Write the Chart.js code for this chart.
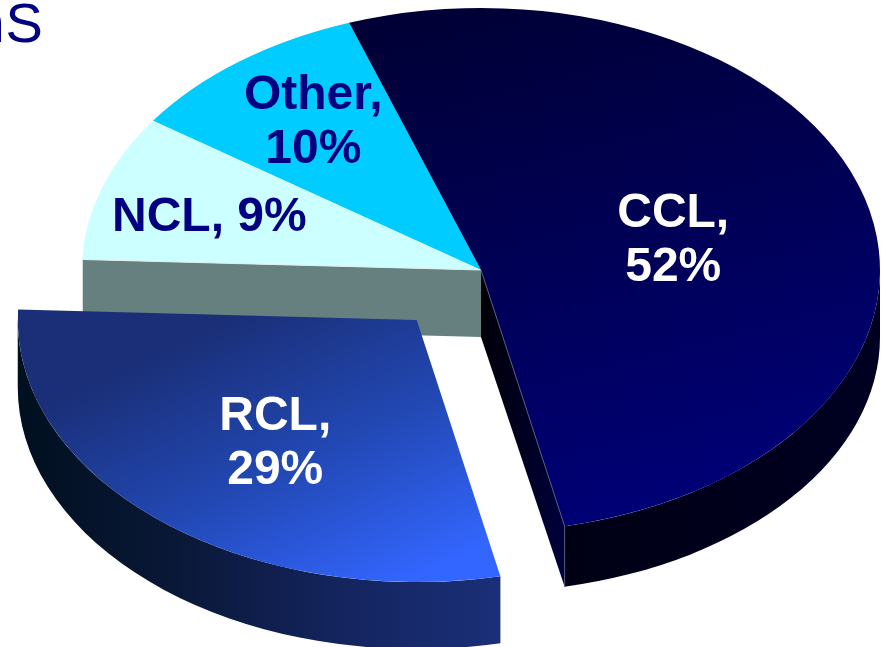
<!DOCTYPE html>
<html>
<head>
<meta charset="utf-8">
<style>
  html, body { margin: 0; padding: 0; background: #fff; overflow: hidden; }
  canvas { display: block; }
</style>
<script src="https://cdn.jsdelivr.net/npm/chart.js@4/dist/chart.umd.js"></script>
</head>
<body>
<canvas id="pie" width="881" height="647"></canvas>
<script>
const categories = ["CCL", "RCL", "NCL", "Other"];
const shares = [52, 29, 9, 10];
const pulledOut = [0, 0.25, 0, 0];
const titleTail = "nS";

// the tilted pie: circle from Chart.js squeezed to this ellipse
const PIE = { x: 481, y: 270, rx: 399, ry: 262, base: 300 };
const NAVY = "#000080";

// gradients are given in screen px relative to the slice apex
const looks = [
  {
    top: [-80, -250, 220, 240, ["#000036", "#000078"]],
    rim: { from: 500, to: 880, stops: ["#000012", "#000022"], depth: 67, squeeze: 0.975 },
    cut: { edge: "endAngle", from: 482, to: 563, stops: ["#000008", "#00003c"], depth: 67, squeeze: 0.975, line: "#55557a" },
  },
  {
    top: [-230, 20, 20, 250, ["#1a2f78", "#2248b4", "#3366ff"]],
    rim: { from: 20, to: 498, stops: ["#00101f", "#0a1838", "#14245e", "#1a2f78"], depth: 67, squeeze: 1 },
  },
  {
    top: "#ccffff",
    cut: { edge: "startAngle", from: 82, to: 482, stops: ["#668080", "#668080"], depth: 67, squeeze: 1, line: "#e4ecec" },
  },
  { top: "#00ccff" },
];
const labelLines = [["CCL,", "52%"], ["RCL,", "29%"], ["NCL, 9%"], ["Other,", "10%"]];
const labelColors = ["#ffffff", "#ffffff", NAVY, NAVY];
const labelReach = [0.49, 0.57, 0.71, 0.71];
const labelNudge = [[4, 2], [5, 6], [-3, 3], [4, -3]];
const paintOrder = [3, 2, 0, 1];

function apexOf(arc, i) {
  const mid = (arc.startAngle + arc.endAngle) / 2;
  return {
    x: PIE.x + Math.cos(mid) * PIE.rx * pulledOut[i],
    y: PIE.y + Math.sin(mid) * PIE.ry * pulledOut[i],
  };
}

function topFill(context) {
  const look = looks[context.dataIndex].top;
  if (typeof look === "string") return look;
  const { chart } = context;
  const kx = PIE.base / PIE.rx;
  const ky = PIE.base / PIE.ry;
  const cx = chart.width / 2;
  const cy = chart.height / 2;
  const g = chart.ctx.createLinearGradient(
    cx + look[0] * kx, cy + look[1] * ky, cx + look[2] * kx, cy + look[3] * ky
  );
  look[4].forEach((c, n) => g.addColorStop(n / (look[4].length - 1), c));
  return g;
}

function sideFill(ctx, side) {
  const g = ctx.createLinearGradient(side.from, 0, side.to, 0);
  side.stops.forEach((c, n) => g.addColorStop(n / (side.stops.length - 1), c));
  return g;
}

function drawRim(ctx, arc, apex, side) {
  // only the part facing the viewer
  const a0 = Math.max(arc.startAngle, 0);
  const a1 = Math.min(arc.endAngle, Math.PI);
  ctx.beginPath();
  ctx.ellipse(apex.x, apex.y, PIE.rx, PIE.ry, 0, a0, a1);
  ctx.ellipse(apex.x, apex.y + side.depth, PIE.rx, PIE.ry * side.squeeze, 0, a1, a0, true);
  ctx.closePath();
  ctx.fillStyle = sideFill(ctx, side);
  ctx.fill();
}

function cutCorners(arc, apex, side) {
  const a = arc[side.edge];
  const dx = Math.cos(a) * PIE.rx;
  const dy = Math.sin(a) * PIE.ry;
  return {
    rimX: apex.x + dx,
    rimY: apex.y + dy,
    lowY: apex.y + side.depth + dy * side.squeeze,
  };
}

function drawCut(ctx, arc, apex, side) {
  const c = cutCorners(arc, apex, side);
  ctx.beginPath();
  ctx.moveTo(apex.x, apex.y);
  ctx.lineTo(c.rimX, c.rimY);
  ctx.lineTo(c.rimX, c.lowY);
  ctx.lineTo(apex.x, apex.y + side.depth);
  ctx.closePath();
  ctx.fillStyle = sideFill(ctx, side);
  ctx.fill();
}

function drawCutLine(ctx, arc, apex, side) {
  const c = cutCorners(arc, apex, side);
  ctx.beginPath();
  ctx.moveTo(apex.x, apex.y);
  ctx.lineTo(c.rimX, c.rimY);
  ctx.lineTo(c.rimX, c.lowY);
  ctx.strokeStyle = side.line;
  ctx.lineWidth = 1;
  ctx.stroke();
}

const tiltedPie = {
  id: "tiltedPie",
  beforeDatasetsDraw(chart) {
    const { ctx } = chart;
    const arcs = chart.getDatasetMeta(0).data;
    paintOrder.forEach((i) => {
      const arc = arcs[i];
      const apex = apexOf(arc, i);
      if (looks[i].cut) drawCut(ctx, arc, apex, looks[i].cut);
      if (looks[i].rim) drawRim(ctx, arc, apex, looks[i].rim);
      ctx.save();
      ctx.translate(apex.x, apex.y);
      ctx.scale(PIE.rx / arc.outerRadius, PIE.ry / arc.outerRadius);
      ctx.translate(-arc.x, -arc.y);
      arc.draw(ctx);
      ctx.restore();
      if (looks[i].cut) drawCutLine(ctx, arc, apex, looks[i].cut);
    });
    return false; // slices are painted above, in depth order
  },
  afterDraw(chart) {
    const { ctx } = chart;
    ctx.save();
    ctx.textAlign = "center";
    ctx.textBaseline = "alphabetic";
    ctx.font = 'bold 48px "Liberation Sans", Arial, sans-serif';
    chart.getDatasetMeta(0).data.forEach((arc, i) => {
      const apex = apexOf(arc, i);
      const mid = (arc.startAngle + arc.endAngle) / 2;
      const x = apex.x + Math.cos(mid) * PIE.rx * labelReach[i] + labelNudge[i][0];
      const y = apex.y + Math.sin(mid) * PIE.ry * labelReach[i] + labelNudge[i][1];
      const lines = labelLines[i];
      ctx.fillStyle = labelColors[i];
      lines.forEach((line, n) => {
        ctx.fillText(line, x, y + 17 + (n - (lines.length - 1) / 2) * 54);
      });
    });
    // tail of the slide title, cut off by the picture edge
    ctx.font = '56px "Liberation Sans", Arial, sans-serif';
    ctx.letterSpacing = "1px";
    ctx.textAlign = "left";
    ctx.fillStyle = NAVY;
    ctx.fillText(titleTail, -26.6, 42);
    ctx.restore();
  },
};

new Chart(document.getElementById("pie"), {
  type: "pie",
  data: {
    labels: categories,
    datasets: [{
      data: shares,
      backgroundColor: topFill,
      borderWidth: 0,
      radius: PIE.base,
    }],
  },
  options: {
    responsive: false,
    animation: false,
    rotation: -19.3,
    plugins: { legend: { display: false }, tooltip: { enabled: false } },
  },
  plugins: [tiltedPie],
});
</script>
</body>
</html>
